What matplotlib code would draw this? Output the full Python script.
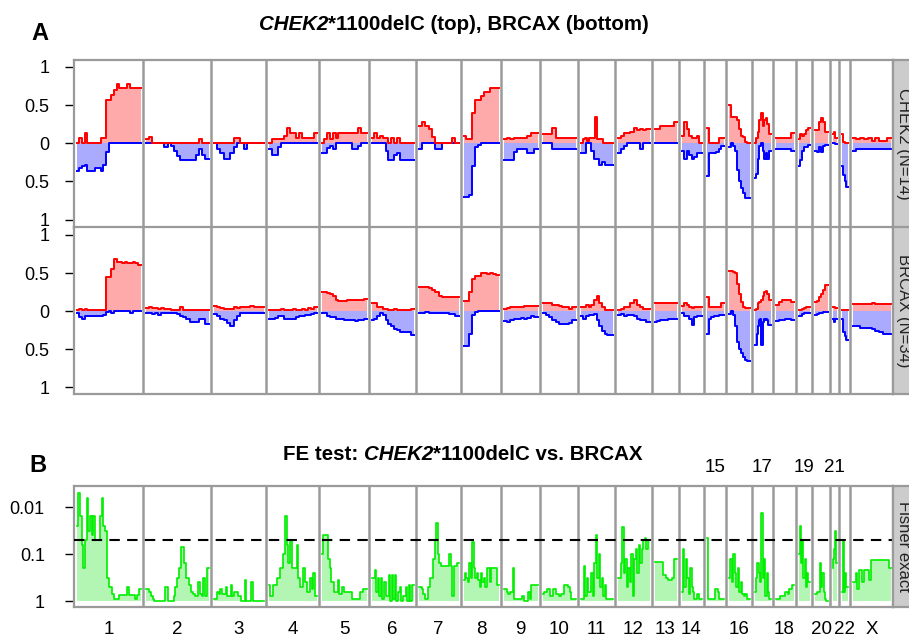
import numpy as np
import matplotlib
matplotlib.use('Agg')
import matplotlib.pyplot as plt
from matplotlib.transforms import blended_transform_factory

plt.rcParams['font.family'] = ['Liberation Sans', 'DejaVu Sans']

# ---------------- data ----------------
chroms = ['1', '2', '3', '4', '5', '6', '7', '8', '9', '10', '11', '12', '13',
          '14', '15', '16', '17', '18', '19', '20', '21', '22', 'X']
top_label_chroms = ['15', '17', '19', '21']
chrom_len = [69, 68, 55, 53, 50, 47, 45, 40, 39, 38, 37, 37, 27, 25, 22, 26,
             21, 23, 16, 18, 9, 11, 43]

# CHEK2*1100delC: frequency of gains (positive) and losses (negative)
chek2_gain = [
    [0, 0.07, 0, 0.14, 0, 0, 0, 0, 0, 0.07, 0.07, 0.57, 0.57, 0.63, 0.7, 0.78, 0.72, 0.72, 0.72, 0.78, 0.72, 0.72, 0.72, 0.72],
    [0.05, 0.08, 0, 0, 0, 0, 0, 0, 0, 0, 0, 0, 0, 0, 0, 0, 0, 0.06, 0, 0],
    [0, 0, 0, 0, 0, 0, 0.07, 0.07, 0, 0, 0, 0, 0, 0, 0],
    [0, 0.06, 0.06, 0.06, 0.06, 0.1, 0.2, 0.13, 0.13, 0.07, 0.13, 0.07, 0.07, 0.07, 0.07, 0.14],
    [0, 0.06, 0.13, 0.06, 0.13, 0.07, 0.13, 0.13, 0.13, 0.13, 0.13, 0.13, 0.13, 0.2, 0.13, 0.13],
    [0.07, 0.13, 0.07, 0.1, 0.07, 0.07, 0, 0.07, 0, 0.07, 0, 0, 0, 0, 0],
    [0.22, 0.28, 0.22, 0.18, 0.08, 0, 0, 0, 0, 0, 0.07, 0],
    [0.1, 0.05, 0.05, 0.4, 0.57, 0.57, 0.62, 0.67, 0.67, 0.72, 0.72, 0.72],
    [0.05, 0.07, 0.05, 0.07, 0.07, 0.07, 0.07, 0.1, 0.13, 0.13],
    [0.12, 0.12, 0.12, 0.2, 0.07, 0.07, 0.07, 0.07, 0.07, 0.07],
    [0, 0.05, 0.07, 0.03, 0.07, 0.07, 0.07, 0.35, 0.05, 0.05, 0.05, 0, 0, 0, 0, 0],
    [0.07, 0.1, 0.13, 0.13, 0.15, 0.2, 0.17, 0.18, 0.17, 0.18],
    [0.18, 0.18, 0.22, 0.22, 0.22, 0.22, 0.22, 0.28],
    [0.1, 0.28, 0.18, 0.1, 0.07, 0.07, 0.1, 0],
    [0.2, 0, 0, 0, 0, 0.07, 0.07],
    [0.5, 0.35, 0.35, 0.35, 0.3, 0.18, 0.1, 0.08, 0.02, 0],
    [0, 0.07, 0.15, 0.3, 0.4, 0.22, 0.3, 0.33, 0.25, 0.12],
    [0.07, 0.07, 0.07, 0.07, 0.07, 0.13],
    [0.05, 0.12, 0.1, 0.12, 0.17, 0.2],
    [0.17, 0.17, 0.28, 0.33, 0.28, 0.15],
    [0.12, 0.15, 0.07],
    [0.12, 0.02, 0, 0],
    [0.07, 0.05, 0.07, 0.05, 0.07, 0.03, 0.07, 0.03, 0.03, 0.07],
]
chek2_loss = [
    [-0.37, -0.32, -0.3, -0.28, -0.37, -0.37, -0.37, -0.32, -0.32, -0.37, -0.28, -0.12, 0, 0, 0, 0, 0, 0, 0, 0, 0, 0, 0, 0],
    [0, 0, 0, 0, 0, 0, -0.05, 0, -0.03, -0.1, -0.17, -0.22, -0.22, -0.22, -0.22, -0.22, -0.15, -0.08, -0.15, -0.2],
    [0, -0.07, -0.13, -0.2, -0.2, -0.13, -0.05, 0, 0, -0.07, 0, 0, 0, 0, 0],
    [-0.07, -0.15, -0.15, -0.05, 0, 0, 0, 0, 0, 0, 0, 0, 0, 0, 0, 0],
    [-0.13, -0.13, -0.06, -0.03, -0.07, 0, 0, 0, 0, 0, 0, -0.07, -0.07, -0.03, 0, 0],
    [0, 0, 0, 0, 0, -0.1, -0.22, -0.22, -0.15, -0.13, -0.22, -0.22, -0.22, -0.22, -0.22],
    [-0.07, 0, 0, 0, 0, -0.07, -0.07, 0, 0, 0, 0, 0],
    [-0.7, -0.7, -0.68, -0.3, -0.05, -0.02, 0, 0, 0, 0, 0, 0],
    [-0.22, -0.22, -0.22, -0.12, -0.07, -0.07, -0.07, -0.13, -0.13, -0.07],
    [0, 0, 0, -0.07, -0.07, -0.07, -0.07, -0.07, -0.07, -0.07],
    [-0.13, -0.13, 0, 0, -0.1, -0.2, -0.2, -0.28, -0.25, -0.28, -0.28, -0.28],
    [-0.13, -0.08, -0.03, 0, 0, 0, 0, -0.07, 0, 0],
    [0, 0, 0, 0, 0, 0, 0, 0],
    [-0.1, -0.2, -0.1, -0.15, -0.2, -0.18, -0.13, -0.13],
    [-0.43, -0.13, -0.13, -0.13, -0.12, -0.08, -0.03],
    [-0.05, 0, -0.03, -0.1, -0.35, -0.5, -0.58, -0.65, -0.72, -0.72],
    [-0.45, -0.4, -0.2, -0.03, 0, -0.1, -0.2, -0.13, -0.2, -0.1],
    [-0.07, -0.07, -0.07, -0.07, -0.07, -0.1],
    [-0.3, -0.22, -0.1, -0.05, -0.05, -0.02],
    [-0.1, -0.12, -0.05, -0.12, -0.03, -0.02],
    [0, 0, -0.01],
    [-0.3, -0.42, -0.5, -0.57],
    [-0.1, -0.07, -0.07, -0.07, -0.07, -0.07, -0.07, -0.07, -0.07, -0.07],
]

# BRCAX
brcax_gain = [
    [0.02, 0.03, 0.02, 0.03, 0.02, 0.02, 0.02, 0.02, 0.02, 0.02, 0.02, 0.45, 0.45, 0.55, 0.68, 0.65, 0.64, 0.63, 0.64, 0.63, 0.63, 0.64, 0.63, 0.6],
    [0.04, 0.05, 0.04, 0.04, 0.03, 0.04, 0.03, 0.03, 0.02, 0.02, 0.02, 0.05, 0.01, 0.01, 0.01, 0.02, 0.01, 0.01, 0.02, 0.02],
    [0.07, 0.05, 0.04, 0.03, 0.03, 0.03, 0.05, 0.04, 0.06, 0.06, 0.06, 0.07, 0.06, 0.06, 0.05],
    [0.02, 0.02, 0.01, 0.02, 0.03, 0.02, 0.02, 0.02, 0.03, 0.02, 0.02, 0.03, 0.02, 0.04, 0.03, 0.05],
    [0.25, 0.25, 0.24, 0.22, 0.2, 0.15, 0.13, 0.13, 0.13, 0.15, 0.15, 0.15, 0.15, 0.15, 0.15, 0.16],
    [0.1, 0.1, 0.06, 0.05, 0.03, 0.03, 0.02, 0.02, 0.03, 0.02, 0.02, 0.02, 0.02, 0.02, 0.03],
    [0.32, 0.31, 0.31, 0.3, 0.28, 0.25, 0.2, 0.19, 0.19, 0.19, 0.19, 0.19],
    [0.13, 0.13, 0.25, 0.42, 0.46, 0.46, 0.5, 0.5, 0.49, 0.5, 0.49, 0.48],
    [0.03, 0.04, 0.05, 0.05, 0.05, 0.06, 0.07, 0.07, 0.07, 0.07],
    [0.1, 0.1, 0.1, 0.08, 0.08, 0.07, 0.05, 0.05, 0.03, 0.05],
    [0.05, 0.06, 0.08, 0.05, 0.08, 0.15, 0.2, 0.1, 0.05, 0.02, 0.02, 0.02],
    [0.02, 0.03, 0.05, 0.05, 0.1, 0.15, 0.08, 0.05, 0.03, 0.03],
    [0.1, 0.1, 0.1, 0.1, 0.1, 0.1, 0.1, 0.1],
    [0.07, 0.1, 0.08, 0.06, 0.04, 0.05, 0.05, 0.05],
    [0.18, 0.05, 0.05, 0.05, 0.05, 0.06, 0.1],
    [0.53, 0.53, 0.52, 0.5, 0.35, 0.22, 0.12, 0.05, 0.04, 0.04],
    [0.02, 0.03, 0.1, 0.12, 0.15, 0.2, 0.25, 0.27, 0.22, 0.15],
    [0.08, 0.12, 0.15, 0.15, 0.14, 0.12],
    [0.02, 0.02, 0.03, 0.04, 0.05, 0.05],
    [0.12, 0.13, 0.18, 0.22, 0.28, 0.34],
    [0.05, 0.05, 0.04],
    [0.02, 0.02, 0.02, 0.01],
    [0.09, 0.09, 0.09, 0.09, 0.09, 0.1, 0.09, 0.09, 0.09, 0.09],
]
brcax_loss = [
    [-0.03, -0.08, -0.1, -0.06, -0.07, -0.06, -0.06, -0.06, -0.06, -0.06, -0.05, -0.01, 0, -0.02, 0, 0, 0, 0, 0, 0, -0.02, 0, 0, 0],
    [-0.02, -0.03, -0.04, -0.03, -0.05, -0.03, -0.03, -0.02, -0.03, -0.03, -0.04, -0.07, -0.08, -0.1, -0.15, -0.15, -0.15, -0.1, -0.1, -0.17],
    [-0.04, -0.07, -0.1, -0.12, -0.16, -0.2, -0.12, -0.06, -0.03, -0.02, -0.03, -0.02, -0.03, -0.02, -0.02],
    [-0.1, -0.11, -0.09, -0.07, -0.07, -0.1, -0.1, -0.11, -0.1, -0.08, -0.07, -0.07, -0.05, -0.05, -0.04, -0.03],
    [-0.03, -0.03, -0.07, -0.08, -0.08, -0.1, -0.1, -0.1, -0.12, -0.12, -0.12, -0.12, -0.13, -0.12, -0.12, -0.11],
    [-0.12, -0.1, -0.07, -0.03, -0.05, -0.12, -0.17, -0.2, -0.23, -0.25, -0.27, -0.27, -0.27, -0.28, -0.32],
    [-0.02, -0.02, -0.01, -0.02, -0.03, -0.02, -0.02, -0.02, -0.03, -0.04, -0.04, -0.06],
    [-0.46, -0.46, -0.3, -0.05, -0.01, 0, 0, 0, 0, 0, 0, 0],
    [-0.13, -0.15, -0.12, -0.1, -0.1, -0.09, -0.1, -0.09, -0.07, -0.08],
    [-0.03, -0.05, -0.08, -0.12, -0.15, -0.17, -0.17, -0.17, -0.16, -0.12],
    [-0.07, -0.1, -0.06, -0.05, -0.05, -0.04, -0.12, -0.2, -0.26, -0.3, -0.31, -0.31],
    [-0.05, -0.04, -0.07, -0.05, -0.05, -0.06, -0.1, -0.12, -0.12, -0.15],
    [-0.15, -0.13, -0.12, -0.12, -0.12, -0.11, -0.11, -0.1],
    [-0.03, -0.06, -0.06, -0.1, -0.18, -0.08, -0.06, -0.06],
    [-0.3, -0.1, -0.08, -0.07, -0.06, -0.05, -0.05],
    [-0.04, 0, -0.05, -0.2, -0.4, -0.5, -0.55, -0.6, -0.64, -0.65],
    [-0.45, -0.45, -0.3, -0.2, -0.12, -0.1, -0.45, -0.15, -0.1, -0.12, -0.1, -0.12, -0.18, -0.18],
    [-0.13, -0.12, -0.12, -0.1, -0.11, -0.12],
    [-0.07, -0.07, -0.04, -0.03, -0.03, -0.03],
    [-0.05, -0.04, -0.03, -0.02, -0.01, -0.01],
    [-0.1, -0.15, -0.1],
    [-0.1, -0.28, -0.33, -0.38],
    [-0.2, -0.2, -0.22, -0.22, -0.22, -0.24, -0.26, -0.28, -0.3, -0.3],
]

# Fisher exact test, -log10(p)
fe_neglog10p = [
    [1.6, 2.3, 1.8, 1.2, 0.7, 1.3, 2.2, 1.5, 1.8, 1.4, 1.8, 1.3, 1.3, 1.3, 1.8, 2.2, 1.6, 1.5, 0.5, 0.3,
     0.3, 0.15, 0.05, 0.05, 0.05, 0.12, 0.12, 0.12, 0.12, 0.12, 0.3, 0.12, 0.12, 0.12, 0.12, 0.05, 0.12, 0.25],
    [0.25, 0.25, 0.2, 0.1, 0.05, 0, 0, 0, 0, 0, 0, 0.3, 0.3, 0, 0, 0, 0.1, 0.3, 0.5, 0.7, 1.15, 1.15,
     0.8, 0.5, 0.5, 0.35, 0.2, 0.15, 0.1, 0.1, 0.4, 0.15, 0.1, 0.5, 0.1, 0.7],
    [0.05, 0.05, 0.2, 0.15, 0.25, 0.15, 0.15, 0.3, 0.1, 0.1, 0.35, 0.1, 0.2, 0.2, 0.1, 0.1, 0, 0, 0.45,
     0, 0, 0, 0.4, 0, 0, 0, 0, 0, 0],
    [0.35, 0.1, 0.1, 0.35, 0.35, 0.5, 0.5, 0.7, 0.7, 1.0, 1.8, 1.2, 0.8, 1.3, 0.7, 0.7, 0.7, 1.2, 0.5,
     0.3, 0.3, 0.7, 0.4, 0.2, 0.2, 0.5, 0.25, 0.6, 0.1],
    [1.0, 1.4, 1.4, 1.4, 0.9, 0.7, 0.4, 0.4, 0.2, 0.2, 0.45, 0.15, 0.15, 0.3, 0.2, 0.2, 0.2, 0.2, 0.2,
     0.05, 0.05, 0.05, 0.05, 0.05, 0.2, 0.2, 0.25, 0.25],
    [0.5, 0.5, 0.65, 0.2, 0.5, 0.1, 0.5, 0.05, 0.4, 0.1, 0.1, 0.55, 0, 0.55, 0.05, 0.55, 0, 0.2, 0.3,
     0, 0.1, 0.1, 0.3, 0, 0.35, 0, 0.35],
    [0.3, 0.3, 0.25, 0.15, 0.05, 0.05, 0.3, 0.5, 0.5, 0.9, 1.3, 1.65, 1.0, 0.8, 0.75, 0.75, 0.75, 0.75,
     0.75, 1.0, 0.75, 0.1, 0.75, 0.75, 0.8],
    [0.45, 0.6, 0.5, 0.4, 0.8, 0.5, 1.25, 0.7, 0.5, 0.6, 0.45, 0.3, 0.6, 0.4, 0.5, 0.3, 0.7, 0.7, 0.4,
     0.7, 0.7, 0.7, 0.7, 0.35],
    [0.25, 0.25, 0.2, 0.15, 0.2, 0.2, 0.7, 0.05, 0.05, 0.05, 0.05, 0.05, 0.1, 0, 0, 0, 0.2, 0.05, 0.35,
     0.35, 0.35, 0.35],
    [0.15, 0.2, 0.2, 0.25, 0.25, 0.1, 0.1, 0.25, 0.25, 0.15, 0.15, 0.1, 0.15, 0.15, 0.35, 0.35, 0.35,
     0.3, 0.2, 0.05, 0.05, 0.05],
    [0.05, 0.05, 0.75, 0.1, 0.5, 0.2, 0.2, 0.6, 0.1, 0.8, 1.4, 0.5, 1.0, 0.3, 0.5, 0.1, 0.35, 0.05,
     0.05, 0.05, 0.05],
    [0.5, 0.5, 0.8, 1.58, 0.6, 0.9, 0.3, 0.7, 0.4, 1.0, 0.1, 0.9, 1.1, 0.6, 1.2, 0.8, 1.1, 1.3, 1.35,
     1.1, 1.3],
    [0.82, 0.82, 0.82, 0.82, 0.82, 0.82, 0.55, 0.55, 0.5, 0.45, 0.45, 0.45, 0.5, 0.9, 0.9],
    [0.2, 1.1, 0.3, 0.9, 0.5, 0.15, 0.7, 0.3, 0.2, 0.05, 0.05, 0.15, 0.05, 0.05],
    [1.35, 0.05, 0.05, 0.05, 0.05, 0.05, 0.25, 0.25, 0.2, 0.05, 0.05, 0.05],
    [0.5, 0.9, 0.4, 1.0, 0.6, 0.3, 0.7, 0.2, 0.4, 0.15, 0.1, 0.15, 0.05, 0.05],
    [0.2, 0.5, 0.8, 0.6, 0.4, 1.88, 0.5, 0.9, 0.1, 0.6, 0.2, 0.05],
    [0.05, 0.05, 0.05, 0.1, 0.1, 0.1, 0.2, 0.2, 0.15, 0.25, 0.25, 0.35],
    [1.0, 1.6, 0.8, 1.3, 0.5, 0.9, 0.3, 0.6, 0.4],
    [0.15, 0.15, 0.2, 0.2, 0.8, 0.3, 0.6, 0.2, 0.05, 0.0],
    [0.7, 0.9, 1.1, 1.5, 0.8],
    [0.2, 1.3, 0.2, 0.6, 0.3, 0.3],
    [0.4, 0.4, 0.6, 0.25, 0.65, 0.65, 0.4, 0.65, 0.65, 0.65, 0.45, 0.88, 0.88, 0.88, 0.88, 0.88, 0.88,
     0.88, 0.88, 0.88, 0.88, 0.88, 0.7],
]
fe_threshold = 0.05

strip_labels = ['CHEK2 (N=14)', 'BRCAX (N=34)', 'Fisher exact']

# ---------------- layout ----------------
W, H = 909, 638
fig = plt.figure(figsize=(W / 100, H / 100), dpi=100)


def rect(x0, y0, x1, y1):
    return [x0 / W, 1 - y1 / H, (x1 - x0) / W, (y1 - y0) / H]


axA1 = fig.add_axes(rect(74, 60, 893, 228))
axA2 = fig.add_axes(rect(74, 227, 893, 394))
axB = fig.add_axes(rect(74, 486, 893, 607))

starts = np.concatenate([[0], np.cumsum(chrom_len)[:-1]])
total = float(np.sum(chrom_len))
centers = starts + np.array(chrom_len) / 2.0
MARGIN = 2.5
GRID = '#9a9a9a'


def edges_for(i, n):
    return np.linspace(starts[i] + MARGIN, starts[i] + chrom_len[i] - MARGIN, n + 1)


def style_panel(ax):
    ax.set_xlim(0, total)
    for s in ax.spines.values():
        s.set_color(GRID)
        s.set_linewidth(1.6)
    for b in starts[1:]:
        ax.axvline(b, color=GRID, lw=1.8, zorder=1)
    ax.set_xticks([])
    ax.tick_params(axis='y', length=6.5, width=1.0, color='black',
                   labelsize=13, pad=11, direction='out')


def draw_freq(ax, gains, losses):
    for i in range(len(chroms)):
        g = np.asarray(gains[i], float)
        l = np.asarray(losses[i], float)
        eg = edges_for(i, len(g))
        el = edges_for(i, len(l))
        gx = np.append(g, g[-1])
        lx = np.append(l, l[-1])
        ax.fill_between(el, 0, lx, step='post', color='#aaaaff', lw=0, zorder=2)
        ax.fill_between(eg, 0, gx, step='post', color='#ffaaaa', lw=0, zorder=2)
        ax.step(el, lx, where='post', color='#0000ff', lw=1.4, zorder=3)
        ax.step(eg, gx, where='post', color='#ff0000', lw=1.4, zorder=4)
    ax.set_yticks([-1, -0.5, 0, 0.5, 1])
    ax.set_yticklabels(['1', '0.5', '0', '0.5', '1'])


style_panel(axA1)
draw_freq(axA1, chek2_gain, chek2_loss)
axA1.set_ylim(-1.11, 1.09)

style_panel(axA2)
draw_freq(axA2, brcax_gain, brcax_loss)
axA2.set_ylim(-1.09, 1.105)

style_panel(axB)
axB.set_yscale('log')
for i in range(len(chroms)):
    v = np.asarray(fe_neglog10p[i], float)
    p = 10.0 ** (-v)
    e = edges_for(i, len(p))
    px = np.append(p, p[-1])
    axB.fill_between(e, 1.0, px, step='post', color='#b3f5b3', lw=0, zorder=2)
    axB.step(e, px, where='post', color='#00ee00', lw=1.2, zorder=3)
axB.axhline(fe_threshold, color='black', lw=1.5, ls=(0, (5, 3.5)), zorder=5)
axB.set_ylim(1.34, 0.00357)
axB.set_yticks([0.01, 0.1, 1])
axB.set_yticklabels(['0.01', '0.1', '1'])
axB.yaxis.set_minor_locator(matplotlib.ticker.NullLocator())
axB.tick_params(axis='y', pad=14.5)

# chromosome labels
tB = blended_transform_factory(axB.transData, fig.transFigure)
for i, c in enumerate(chroms):
    y = 467 if c in top_label_chroms else 630
    axB.text(centers[i], 1 - y / H, c, transform=tB, ha='center', va='center',
             fontsize=13.5)

# strips (the labels run off the right edge of the figure, as in the original)
for (y0, y1), lab in zip([(60, 228), (227, 394), (486, 607)], strip_labels):
    sax = fig.add_axes(rect(893, y0, 925, y1))
    sax.set_facecolor('#cccccc')
    sax.set_xticks([])
    sax.set_yticks([])
    for s in sax.spines.values():
        s.set_color(GRID)
        s.set_linewidth(1.6)
    sax.text((903.5 - 893) / 32, 0.5, lab, rotation=-90, ha='center', va='center',
             fontsize=12, color='#222222', transform=sax.transAxes)

# rich titles
renderer = fig.canvas.get_renderer()


def text_width(s, size, style):
    t = fig.text(0, 0, s, fontsize=size, fontweight='bold', fontstyle=style)
    w = t.get_window_extent(renderer).width
    t.remove()
    return w


def rich_title(x_center, y, pieces, size):
    sp = text_width('x x', size, 'normal') - text_width('xx', size, 'normal')
    widths = []
    for s, st in pieces:
        core = s.strip(' ')
        w = text_width(core, size, st)
        lead = len(s) - len(s.lstrip(' '))
        trail = len(s) - len(s.rstrip(' '))
        widths.append((core, st, w, lead, trail))
    tot = sum(w + (lead + trail) * sp for _, _, w, lead, trail in widths)
    x = x_center - tot / 2
    for core, st, w, lead, trail in widths:
        x += lead * sp
        fig.text(x / W, 1 - y / H, core, fontsize=size, fontweight='bold',
                 fontstyle=st, ha='left', va='center')
        x += w + trail * sp


rich_title(454, 24, [('CHEK2', 'italic'), ('*1100delC (top), BRCAX (bottom)', 'normal')], 14.8)
rich_title(463, 455, [('FE test: ', 'normal'), ('CHEK2', 'italic'), ('*1100delC vs. BRCAX', 'normal')], 14.8)

fig.text(40 / W, 1 - 33 / H, 'A', fontsize=17, fontweight='bold', ha='center', va='center')
fig.text(38 / W, 1 - 465 / H, 'B', fontsize=17, fontweight='bold', ha='center', va='center')

fig.savefig('out.png', dpi=100)
